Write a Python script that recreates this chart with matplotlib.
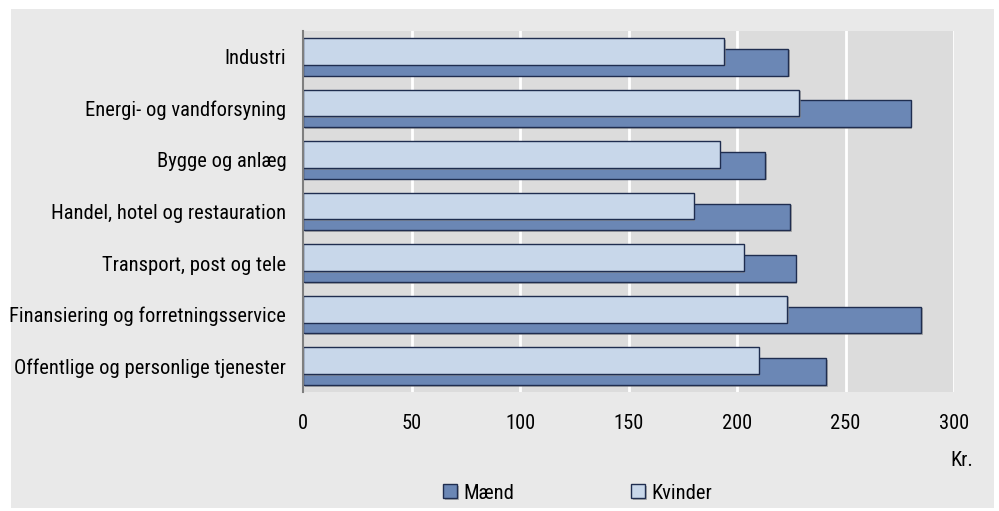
import matplotlib.pyplot as plt
import matplotlib.patheffects as pe
from matplotlib import font_manager as fm
from matplotlib.patches import Rectangle
import numpy as np

# Data (kr. per hour)
categories = ['Industri', 'Energi- og vandforsyning', 'Bygge og anlæg',
              'Handel, hotel og restauration', 'Transport, post og tele',
              'Finansiering og forretningsservice', 'Offentlige og personlige tjenester']
maend = [223.5, 280, 213, 224.5, 227, 285, 241]
kvinder = [194, 228.5, 192, 180, 203, 223, 210]
xticks = [0, 50, 100, 150, 200, 250, 300]

# pick a condensed sans if there is one
available = {f.name for f in fm.fontManager.ttflist}
narrow = [n for n in ['Liberation Sans Narrow', 'Roboto Condensed', 'Open Sans Condensed',
                      'PT Sans Narrow', 'Arial Narrow'] if n in available]
plt.rcParams['font.family'] = narrow[:1] + ['DejaVu Sans']
fs = 14.8

fig = plt.figure(figsize=(9.99, 5.11), dpi=100)
fig.patch.set_facecolor('white')
# light grey panel behind everything
fig.patches.append(Rectangle((0.011, 0.006), 0.984, 0.9765, transform=fig.transFigure,
                             facecolor='#e9e9e9', edgecolor='none', zorder=-5))

ax = fig.add_axes([0.3033, 0.2329, 0.6517, 0.7064])
ax.set_zorder(2)
ax.set_facecolor('#dcdcdc')

y = np.arange(len(categories))
shadow = [pe.SimplePatchShadow(offset=(1.2, -1.2), shadow_rgbFace='#8a8a8a', alpha=0.6), pe.Normal()]
b_m = ax.barh(y + 0.105, maend, height=0.52, color='#6b87b5', edgecolor='#1f2d4f',
              linewidth=1, zorder=3, label='Mænd')
b_k = ax.barh(y - 0.105, kvinder, height=0.52, color='#c8d7ea', edgecolor='#1f2d4f',
              linewidth=1, zorder=4, label='Kvinder')
for bar in list(b_m) + list(b_k):
    bar.set_path_effects(shadow)

ax.set_xlim(0, 300)
ax.set_ylim(len(categories) - 0.5, -0.5)
ax.set_xticks(xticks)
ax.set_yticks(y)
ax.set_yticklabels(categories, fontsize=fs)
ax.tick_params(axis='x', length=0, pad=16, labelsize=fs)
ax.tick_params(axis='y', length=0, pad=12)
for xv in xticks[1:]:
    ax.axvline(xv, color='white', linewidth=2, zorder=1)
for s in ['top', 'right', 'bottom']:
    ax.spines[s].set_visible(False)
ax.spines['left'].set_color('#7f7f7f')
ax.spines['left'].set_linewidth(1.5)
ax.spines['left'].set_zorder(5)

fig.text(0.974, 1 - 460 / 511, 'Kr.', ha='right', va='center', fontsize=fs)

fig.legend(handles=[b_m, b_k], labels=['Mænd', 'Kvinder'], loc='center',
           bbox_to_anchor=(0.578, 0.035), ncol=2, frameon=False, fontsize=fs,
           handlelength=0.68, handleheight=0.68, handletextpad=0.3,
           columnspacing=5.7, borderpad=0)

plt.savefig('out.png', dpi=100, facecolor=fig.get_facecolor())
